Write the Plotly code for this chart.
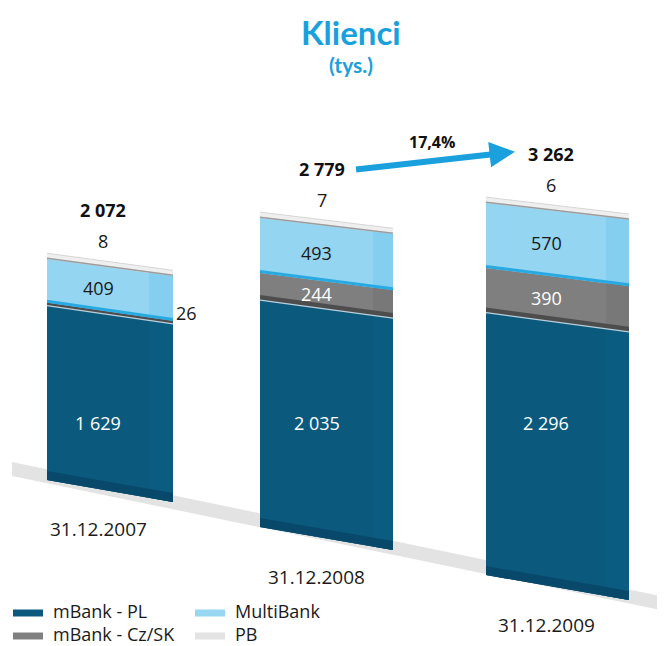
import plotly.graph_objects as go

# ---------------- data ----------------
dates = ["31.12.2007", "31.12.2008", "31.12.2009"]
mbank_pl = [1629, 2035, 2296]
mbank_czsk = [26, 244, 390]
multibank = [409, 493, 570]
pb = [8, 7, 6]
totals = [2072, 2779, 3262]
growth_label = "17,4%"
series_names = ["mBank - PL", "mBank - Cz/SK", "MultiBank", "PB"]
title_text = "Klienci"
subtitle_text = "(tys.)"

# ---------------- layout constants (screen px) ----------------
OFF = 8                      # default page margin
FIG_W, FIG_H = 665 - 2 * OFF, 646 - OFF
K = 0.1115                   # px per thousand clients
REF = 480                    # screen y of value 0 for the first bar
bar_left = [47, 260, 486]
bar_side = [149, 373, 606]
bar_right = [173, 393, 629]
bottom_left = [480, 527, 575]
bottom_right = [502, 550, 600]
depth = [0.96, 1.0, 1.025]   # perspective scale of each bar
right_gain = 1.022
cap_px = 5
pl_label_y = 423             # screen row of the mBank - PL value labels

front_colors = ["#0b5a7e", "#7f7f7f", "#94d5f1", "#e4e4e4"]
side_colors = ["#0b5c81", "#787878", "#84cef0", "#dcdcdc"]
legend_colors = ["#0b5a7e", "#808080", "#98d7f2", "#e3e3e3"]
FONT = "Open Sans, DejaVu Sans, sans-serif"
TFONT = "Lato, Open Sans, sans-serif"
CYAN = "#1aa0dc"
TXT = "#1a1a1a"


def v(py):
    """screen px -> axis value"""
    return (REF - py) / K


def dpx(px):
    return px / K


def edge_val(i, cum, side):
    if side == "L":
        return v(bottom_left[i]) + cum * depth[i]
    return v(bottom_right[i]) + cum * depth[i] * right_gain


def at_x(i, cum, x):
    yl = edge_val(i, cum, "L")
    yr = edge_val(i, cum, "R")
    t = (x - bar_left[i]) / (bar_right[i] - bar_left[i])
    return yl + (yr - yl) * t


def quad(i, x0, x1, lo, hi, lo_off=0.0, hi_off=0.0):
    xs = [x0, x1, x1, x0, x0]
    ys = [at_x(i, lo, x0) + lo_off, at_x(i, lo, x1) + lo_off,
          at_x(i, hi, x1) + hi_off, at_x(i, hi, x0) + hi_off,
          at_x(i, lo, x0) + lo_off]
    return xs, ys


def poly(fig, xs, ys, color):
    fig.add_trace(go.Scatter(x=xs, y=ys, mode="none", fill="toself", fillcolor=color,
                             showlegend=False, hoverinfo="skip"))


def edge_line(fig, i, cumv, off, color, width):
    fig.add_trace(go.Scatter(x=[bar_left[i], bar_right[i]],
                             y=[at_x(i, cumv, bar_left[i]) + off, at_x(i, cumv, bar_right[i]) + off],
                             mode="lines", line=dict(color=color, width=width),
                             showlegend=False, hoverinfo="skip"))


fig = go.Figure()

# floor (decoration)
poly(fig, [12, 665, 665, 12, 12], [v(462), v(597), v(611), v(476), v(462)], "#e3e3e3")

series = [mbank_pl, mbank_czsk, multibank, pb]

for i in range(3):
    tops = []
    cum = 0.0
    for vals in series:
        cum += vals[i]
        tops.append(cum)
    total = tops[-1]
    pl_top, cz_top = tops[0], tops[1]
    # stacked segments: cumulative polygons from the top series down (no seams)
    for s in range(3, -1, -1):
        xs, ys = quad(i, bar_left[i], bar_right[i], 0, tops[s])
        poly(fig, xs, ys, front_colors[s])
        xs, ys = quad(i, bar_side[i], bar_right[i], 0 if s == 0 else tops[s - 1], tops[s])
        poly(fig, xs, ys, side_colors[s])
    # 3D decorations
    xs, ys = quad(i, bar_left[i], bar_right[i], 0, 0, 0, dpx(9))
    poly(fig, xs, ys, "#08496b")
    sh = min(dpx(5), mbank_czsk[i] * depth[i])
    xs, ys = quad(i, bar_left[i], bar_right[i], pl_top, pl_top, 0, sh)
    poly(fig, xs, ys, "#4d4d4d")
    xs, ys = quad(i, bar_left[i], bar_right[i], cz_top, cz_top, 0, dpx(3))
    poly(fig, xs, ys, "#27a9e1")
    xs, ys = quad(i, bar_left[i], bar_right[i], total, total, 0, dpx(cap_px))
    poly(fig, xs, ys, "#efefef")
    edge_line(fig, i, pl_top, 0, "#b9cfdc", 1.2)
    edge_line(fig, i, total, 0, "#9c9c9c", 1.5)
    edge_line(fig, i, total, dpx(cap_px), "#d6d6d6", 1)

annotations = []
shapes = []


def fmt(n):
    return f"{n:,}".replace(",", " ")


for i in range(3):
    xc = (bar_left[i] + bar_side[i]) / 2
    pl_top = mbank_pl[i]
    cz_top = pl_top + mbank_czsk[i]
    mb_top = cz_top + multibank[i]
    total = mb_top + pb[i]
    annotations.append(dict(x=xc, y=v(pl_label_y), text=fmt(mbank_pl[i]),
                            font=dict(size=18, color="white", family=FONT), showarrow=False))
    if mbank_czsk[i] > 100:
        annotations.append(dict(x=xc, y=at_x(i, (pl_top + cz_top) / 2, xc), text=fmt(mbank_czsk[i]),
                                font=dict(size=18, color="white", family=FONT), showarrow=False))
    else:
        xr = bar_right[i] + 13
        annotations.append(dict(x=xr, y=at_x(i, (pl_top + cz_top) / 2, bar_right[i]) + dpx(9),
                                text=fmt(mbank_czsk[i]),
                                font=dict(size=18, color=TXT, family=FONT), showarrow=False))
    annotations.append(dict(x=xc, y=at_x(i, (cz_top + mb_top) / 2, xc), text=fmt(multibank[i]),
                            font=dict(size=18, color=TXT, family=FONT), showarrow=False))
    xp = xc + 5
    annotations.append(dict(x=xp, y=at_x(i, total, xp) + dpx(cap_px + 20), text=fmt(pb[i]),
                            font=dict(size=18, color=TXT, family=FONT), showarrow=False))
    annotations.append(dict(x=xp, y=at_x(i, total, xp) + dpx(cap_px + 51),
                            text="<b>" + fmt(totals[i]) + "</b>",
                            font=dict(size=18, color="#111111", family=FONT), showarrow=False))
    annotations.append(dict(x=xc, y=at_x(i, 0, xc) - dpx(40), text=dates[i],
                            font=dict(size=19, color=TXT, family=FONT), showarrow=False))

# growth arrow between total labels
x_a0 = (bar_left[1] + bar_side[1]) / 2 + 5
x_a1 = (bar_left[2] + bar_side[2]) / 2 + 5
tot_y1 = at_x(1, totals[1], x_a0) + dpx(cap_px + 51)
tot_y2 = at_x(2, totals[2], x_a1) + dpx(cap_px + 51)
sx, sy = x_a0 + 33, tot_y1 - dpx(1)
tx, ty = x_a1 - 36, tot_y2 + dpx(2)
annotations.append(dict(x=tx, y=ty, ax=sx, ay=sy, axref="x", ayref="y", text="",
                        showarrow=True, arrowhead=2, arrowsize=0.85, arrowwidth=6,
                        arrowcolor=CYAN, standoff=0, startstandoff=0))
annotations.append(dict(x=(sx + tx) / 2 - 3, y=(sy + ty) / 2 + dpx(19),
                        text="<b>" + growth_label + "</b>",
                        font=dict(size=16, color="#111111", family=FONT), showarrow=False))

# title
annotations.append(dict(x=351, y=v(32), text="<b>" + title_text + "</b>",
                        font=dict(size=33, color=CYAN, family=TFONT), showarrow=False))
annotations.append(dict(x=351, y=v(64), text="<b>" + subtitle_text + "</b>",
                        font=dict(size=21, color=CYAN, family=TFONT), showarrow=False))

# legend (drawn manually: marker bar + label)
leg_pos = [(13, 613), (13, 636), (195, 613), (195, 636)]   # PL, Cz/SK, MultiBank, PB
for s, (lx, ly) in enumerate(leg_pos):
    shapes.append(dict(type="rect", xref="x", yref="y", x0=lx, x1=lx + 30,
                       y0=v(ly + 3.5), y1=v(ly - 3.5), fillcolor=legend_colors[s],
                       line=dict(width=0), layer="above"))
    annotations.append(dict(x=lx + 38, y=v(ly - 2.5), xanchor="left", text=series_names[s],
                            font=dict(size=18, color=TXT, family=FONT), showarrow=False))

fig.update_layout(
    width=FIG_W, height=FIG_H, autosize=False,
    margin=dict(l=0, r=0, t=0, b=0),
    paper_bgcolor="white", plot_bgcolor="white",
    xaxis=dict(range=[OFF, OFF + FIG_W], visible=False, fixedrange=True),
    yaxis=dict(range=[v(OFF + FIG_H), v(OFF)], visible=False, fixedrange=True),
    annotations=annotations,
    shapes=shapes,
    showlegend=False,
)

fig.write_html("out.html")
